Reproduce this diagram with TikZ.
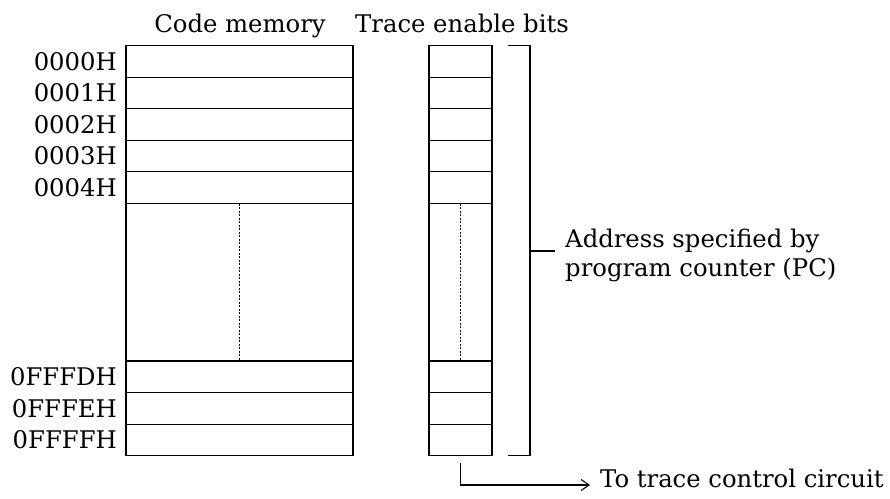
\documentclass[tikz,border=0pt]{standalone}
\usepackage{fontspec}
\setmainfont{DejaVu Serif}
\usetikzlibrary{arrows.meta}
\begin{document}
\begin{tikzpicture}[x=1pt,y=-1pt,
  lbl/.style={font=\fontsize{24.3}{29}\selectfont, inner sep=0pt},
  cell/.style={draw, line width=1.1pt, minimum height=31.6pt, inner sep=0pt, outer sep=0pt},
  wire/.style={line width=1.1pt},
  dotline/.style={line width=0.8pt, dash pattern=on 2pt off 1.5pt}]
\useasboundingbox (0,0) rectangle (890,498);
% headings
\node[lbl, anchor=base] (h1) at (240,32) {Code memory};
\node[lbl, anchor=base] (h2) at (462,32) {Trace enable bits};
% code memory cells
\foreach \i/\y/\t in {0/45.5/0000H,1/77.1/0001H,2/108.7/0002H,3/140.3/0003H,4/171.9/0004H,5/361/0FFFDH,6/392.6/0FFFEH,7/424.2/0FFFFH}{
  \node[cell, minimum width=227pt, anchor=north west] (c\i) at (126,\y) {};
  \node[cell, minimum width=63pt, anchor=north west] (t\i) at (429,\y) {};
  \node[lbl, anchor=east] (a\i) at ([xshift=-9pt]c\i.west) {\t};
}
% middle sections
\draw[wire] (c4.south west) -- (c5.north west);
\draw[wire] (c4.south east) -- (c5.north east);
\draw[wire] (t4.south west) -- (t5.north west);
\draw[wire] (t4.south east) -- (t5.north east);
\coordinate (d1) at (239.5,203.5);
\coordinate (d2) at (239.5,361);
\coordinate (e1) at (460.5,203.5);
\coordinate (e2) at (460.5,361);
\draw[dotline] (d1) -- (d2);
\draw[dotline] (e1) -- (e2);
% bracket
\coordinate (b1) at (508,45.5);
\coordinate (b2) at (530,45.5);
\coordinate (b3) at (530,455.8);
\coordinate (b4) at (508,455.8);
\coordinate (bm) at (530,251);
\coordinate (bt) at (555,251);
\draw[wire] (b1) -- (b2) -- (b3) -- (b4);
\draw[wire] (bm) -- (bt);
\node[lbl, anchor=base west] (addr1) at (565,247) {Address specified by};
\node[lbl, anchor=base west] (addr2) at (565,276) {program counter (PC)};
% arrow to trace control circuit
\coordinate (s1) at (460.5,463);
\coordinate (s2) at (460.5,485);
\coordinate (s3) at (590,485);
\draw[wire, -{Straight Barb[length=8pt,width=11pt,line width=1.1pt]}] (s1) -- (s2) -- (s3);
\node[lbl, anchor=base west] (tc) at (600,487) {To trace control circuit};
\end{tikzpicture}
\end{document}
